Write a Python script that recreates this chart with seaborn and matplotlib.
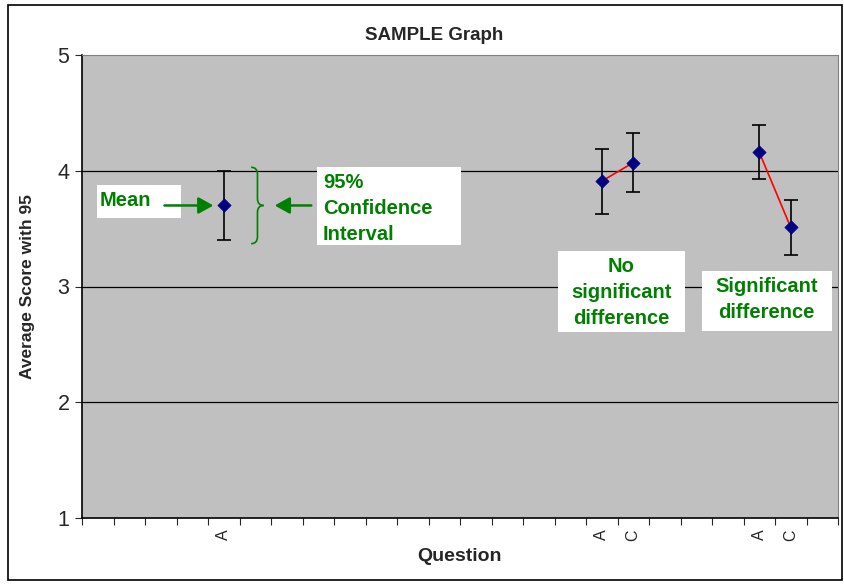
import numpy as np
import pandas as pd
import matplotlib.pyplot as plt
import seaborn as sns
from matplotlib.patches import Rectangle, FancyArrowPatch, PathPatch
from matplotlib.path import Path

# ---- data ----
n_slots = 24
slot_labels = [""] * n_slots
questions = ["A", "A", "C", "A", "C"]
slots = [4, 16, 17, 21, 22]
means = [3.70, 3.91, 4.07, 4.16, 3.51]
errs = [0.30, 0.28, 0.255, 0.235, 0.235]
pairs = [(1, 2), (3, 4)]

for s, q in zip(slots, questions):
    slot_labels[s] = q

df = pd.DataFrame({"slot": slots, "mean": means, "err": errs, "question": questions})

sns.set_style("white")
plt.rcParams["font.family"] = ["Liberation Sans", "DejaVu Sans"]

fig = plt.figure(figsize=(8.44, 5.84), dpi=100)
ax = fig.add_axes([82 / 844, 66 / 584, 756 / 844, 463 / 584])
ax.set_facecolor("#C0C0C0")

# outer frame
fig.patches.append(Rectangle((8 / 844, 4 / 584), 834 / 844, 575 / 584, transform=fig.transFigure,
                             fill=False, edgecolor="black", linewidth=1.2))

# gridlines
for yv in [2, 3, 4]:
    ax.axhline(yv, color="black", linewidth=0.9, zorder=1)

# red connectors between paired questions
for i, j in pairs:
    sub = df.iloc[[i, j]]
    sns.lineplot(x=sub["slot"], y=sub["mean"], color="red", linewidth=1.2, ax=ax, zorder=3,
                 estimator=None, sort=False)

ax.errorbar(df["slot"], df["mean"], yerr=df["err"], fmt="none", ecolor="black",
            elinewidth=1.2, capsize=5, capthick=1.2, zorder=4)
sns.scatterplot(data=df, x="slot", y="mean", marker="D", color="#000080", s=45,
                edgecolor="#000080", ax=ax, zorder=5)

ax.set_xlim(-0.5, n_slots - 0.5)
ax.set_ylim(1, 5)
ax.set_yticks([1, 2, 3, 4, 5])
ax.tick_params(axis="y", labelsize=15.5, direction="out", length=5, width=0.8, left=True, pad=4)
ax.set_xticks(range(n_slots))
ax.set_xticklabels(slot_labels, rotation=90, fontsize=11.5)
ax.set_xticks(np.arange(-0.5, n_slots, 1), minor=True)
ax.tick_params(axis="x", which="major", length=0, pad=8)
ax.tick_params(axis="x", which="minor", direction="out", length=5, width=0.8, bottom=True)

for side in ["left", "bottom"]:
    ax.spines[side].set_color("black")
    ax.spines[side].set_linewidth(1.2)
for side in ["top", "right"]:
    ax.spines[side].set_color("#808080")
    ax.spines[side].set_linewidth(0.8)

ax.set_xlabel("Question", fontsize=14, fontweight="bold", labelpad=5)
ax.set_ylabel("Average Score with 95", fontsize=12.5, fontweight="bold", labelpad=16)
fig.text(434 / 844, 1 - 35 / 584, "SAMPLE Graph", ha="center", va="center",
         fontsize=13.5, fontweight="bold")

green = "#008000"

# white label boxes
boxes = [(-0.02, 3.592, 2.66, 0.285), (6.96, 3.358, 4.57, 0.674),
         (14.61, 2.609, 4.03, 0.700), (19.19, 2.618, 4.11, 0.516)]
for x0, y0, w, h in boxes:
    ax.add_patch(Rectangle((x0, y0), w, h, facecolor="white", edgecolor="none", zorder=6))

ax.text(0.07, 3.74, "Mean", color=green, fontsize=14.5, fontweight="bold",
        ha="left", va="center", zorder=7)
ax.text(7.15, 3.672, "95%\nConfidence\nInterval", color=green, fontsize=14.5, fontweight="bold",
        ha="left", va="center", linespacing=1.45, zorder=7)
ax.text(16.62, 2.95, "No\nsignificant\ndifference", color=green, fontsize=14.5,
        fontweight="bold", ha="center", va="center", linespacing=1.45, zorder=7)
ax.text(21.24, 2.885, "Significant\ndifference", color=green, fontsize=14.5,
        fontweight="bold", ha="center", va="center", linespacing=1.45, zorder=7)

# arrows
for x_start, x_end in [(2.03, 3.76), (6.87, 5.53)]:
    ax.add_patch(FancyArrowPatch((x_start, 3.70), (x_end, 3.70),
                                 arrowstyle="-|>,head_length=9,head_width=5",
                                 color=green, linewidth=1.8, zorder=7))

# curly brace
bx0, bx1, bm = 4.87, 5.27, 3.70
top, bot = 4.03, 3.37
mid = bx0 + 0.2
upper = Path([(bx0, top), (mid, top), (mid, top - 0.06),
              (mid, bm + 0.06), (mid, bm), (bx1, bm)],
             [Path.MOVETO, Path.CURVE3, Path.CURVE3, Path.LINETO, Path.CURVE3, Path.CURVE3])
lower = Path([(bx0, bot), (mid, bot), (mid, bot + 0.06),
              (mid, bm - 0.06), (mid, bm), (bx1, bm)],
             [Path.MOVETO, Path.CURVE3, Path.CURVE3, Path.LINETO, Path.CURVE3, Path.CURVE3])
for p in [upper, lower]:
    ax.add_patch(PathPatch(p, facecolor="none", edgecolor=green, linewidth=1.2, zorder=7))

fig.savefig("out.png", dpi=100)
